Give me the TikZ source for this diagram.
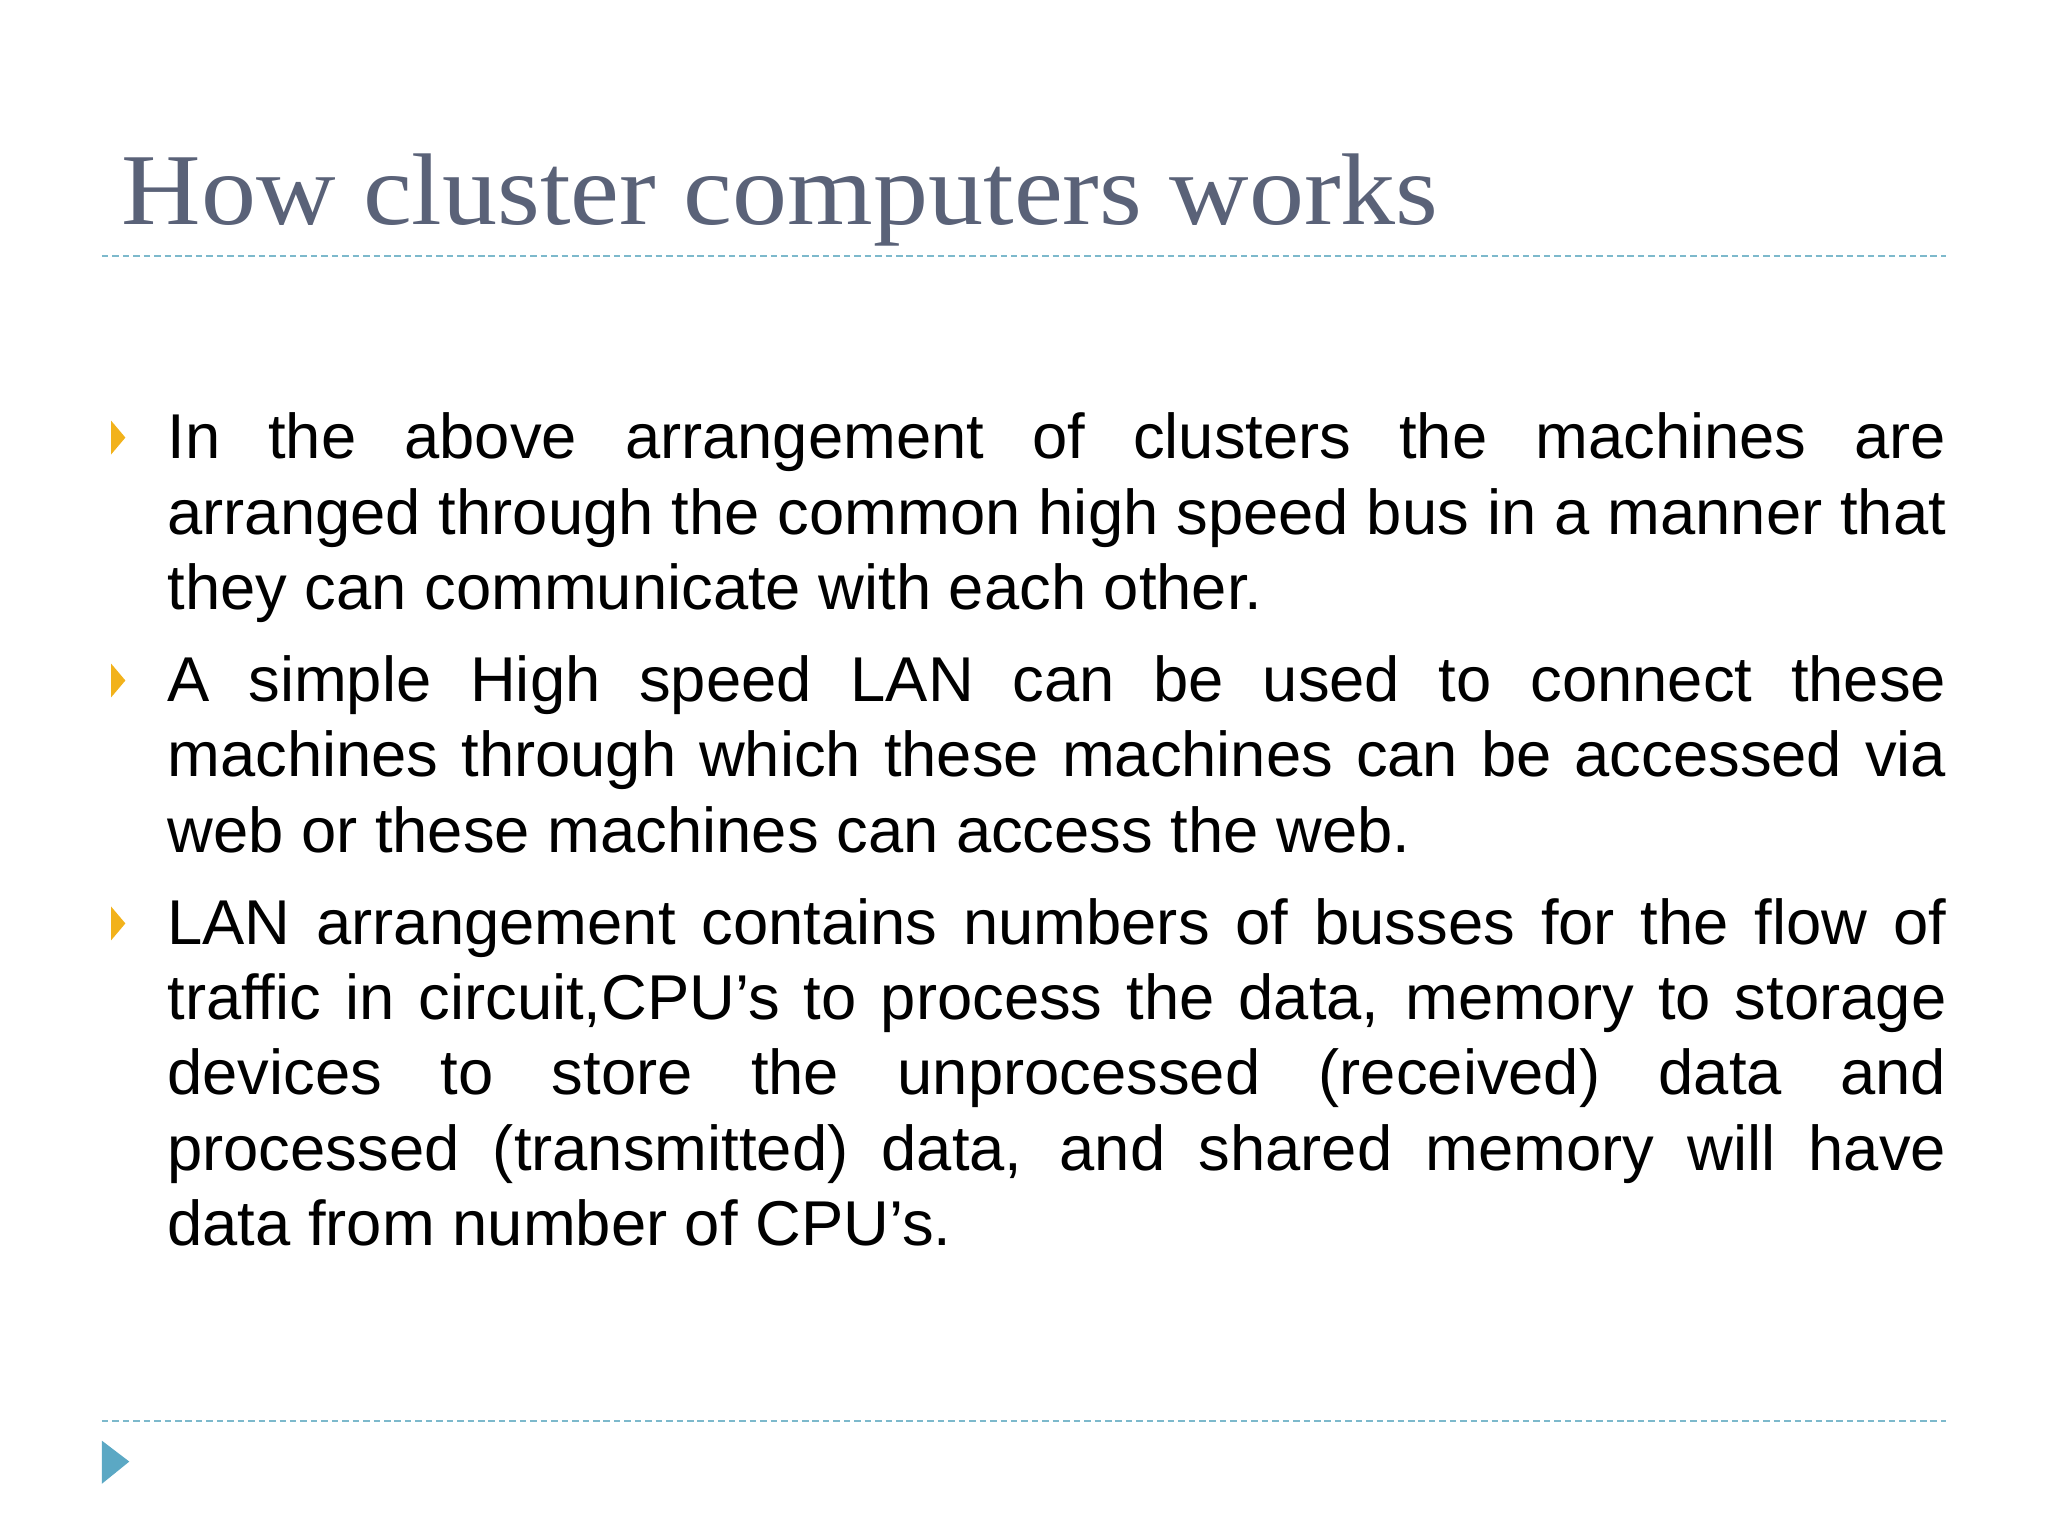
\documentclass[tikz,border=0pt]{standalone}
\usepackage{fontspec}
\setmainfont{Liberation Sans}
\newfontfamily\titlefont{Liberation Serif}
\definecolor{titlecol}{HTML}{5A6278}
\definecolor{rulecol}{HTML}{7DB9CC}
\definecolor{bulcol}{HTML}{F2B21B}
\definecolor{navcol}{HTML}{5BA8C4}
\newcommand\myhyoff{\lefthyphenmin=64 \tolerance=10000 \hyphenpenalty=10000 }
\begin{document}
\begin{tikzpicture}[x=1pt,y=-1pt,
  bodytext/.style={anchor=north west,inner sep=0pt,text width=1362pt,align=justify,
    font=\fontsize{48.5}{57.5}\selectfont},
  rulestyle/.style={rulecol,line width=1.3pt,dash pattern=on 5pt off 3pt}]
\useasboundingbox (0,0) rectangle (1568,1176);
\node[anchor=base west,inner sep=0pt,text=titlecol,font=\titlefont\fontsize{78}{80}\selectfont] (title) at (93,172) {\scalebox{1.08}[1]{How cluster computers works}};
\draw[rulestyle] (78,196) -- (1490,196);
\draw[rulestyle] (78,1088) -- (1490,1088);
\foreach \y in {335,521,707}{\fill[bulcol] (85,\y-13) -- (96,\y) -- (85,\y+13) -- cycle;}
\node[bodytext] (p1) at (128,316) {\myhyoff In the above arrangement of clusters the machines are\linebreak arranged through the common high speed bus in a manner that\linebreak they can communicate with each other.};
\node[bodytext] (p2) at (128,502) {\myhyoff A simple High speed LAN can be used to connect these\linebreak machines through which these machines can be accessed via\linebreak web or these machines can access the web.};
\node[bodytext] (p3) at (128,688) {\myhyoff LAN arrangement contains numbers of busses for the flow of\linebreak traffic in circuit,CPU’s to process the data, memory to storage\linebreak devices to store the unprocessed (received) data and\linebreak processed (transmitted) data, and shared memory will have\linebreak data from number of CPU’s.};
\fill[navcol] (78,1103) -- (99,1119) -- (78,1136) -- cycle;
\end{tikzpicture}
\end{document}
